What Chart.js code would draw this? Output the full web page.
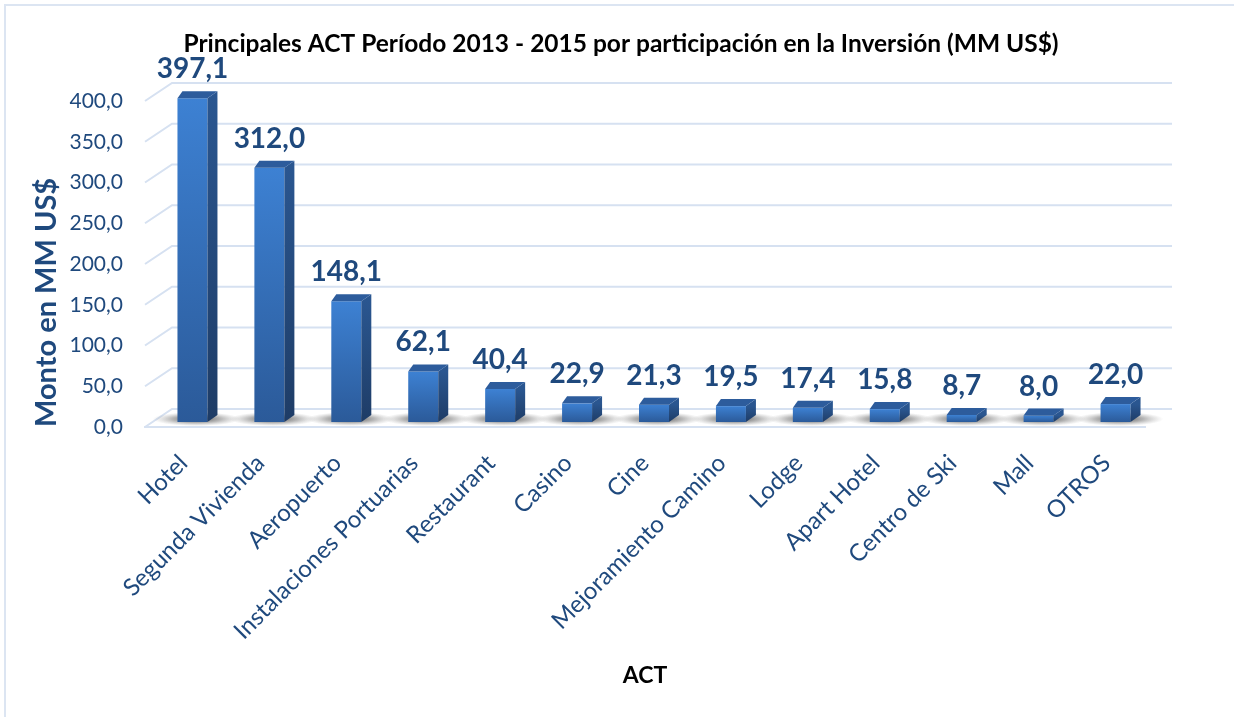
<!DOCTYPE html>
<html>
<head>
<meta charset="utf-8">
<script src="https://cdn.jsdelivr.net/npm/chart.js@4.4.1/dist/chart.umd.min.js"></script>
<style>
  html, body { margin: 0; padding: 0; background: #fff; }
  #wrap { width: 1234px; height: 717px; }
</style>
</head>
<body>
<div id="wrap"><canvas id="chart" width="1234" height="717"></canvas></div>
<script>
/* ── data ─────────────────────────────────────────── */
const categories = ['Hotel', 'Segunda Vivienda', 'Aeropuerto', 'Instalaciones Portuarias', 'Restaurant',
                    'Casino', 'Cine', 'Mejoramiento Camino', 'Lodge', 'Apart Hotel', 'Centro de Ski', 'Mall', 'OTROS'];
const montos     = [397.1, 312.0, 148.1, 62.1, 40.4, 22.9, 21.3, 19.5, 17.4, 15.8, 8.7, 8.0, 22.0];
const yMin = 0, yMax = 400, yStep = 50;

const chartTitle = 'Principales ACT Período 2013 - 2015 por participación en la Inversión (MM US$)';
const xTitle = 'ACT';
const yTitle = 'Monto en MM US$';

/* ── look ─────────────────────────────────────────── */
const FONT  = 'Lato, "Noto Sans", sans-serif';
const BLUE  = '#1F497D';
const GRID  = '#D6E1F1';
const WALL  = { dx: 27, dy: -18 };   // back wall offset
const DEPTH = { dx: 9,  dy: -5 };    // bar position inside the depth
const SIDE  = { dx: 10, dy: -7 };    // bar thickness

const fmt = v => Number(v).toFixed(1).replace('.', ',');
const ok  = (...v) => v.every(Number.isFinite);

// ── 3D look: frame, title, wall grid, floor shadows, bar sides & tops, value labels
const bars3d = {
    id: 'bars3d',
    beforeDraw(chart) {
        const { ctx, chartArea: a } = chart;
        const ys = chart.scales.y;
        ctx.save();
        // outer frame (only top and left visible in the picture)
        ctx.strokeStyle = '#DCE5F2';
        ctx.lineWidth = 2;
        ctx.beginPath();
        ctx.moveTo(5, 717); ctx.lineTo(5, 5); ctx.lineTo(1234, 5);
        ctx.stroke();
        // chart title, centred on the whole picture
        ctx.fillStyle = '#000';
        ctx.font = `bold 24.5px ${FONT}`;
        ctx.textAlign = 'center';
        ctx.textBaseline = 'alphabetic';
        ctx.fillText(chartTitle, 621, 52);
        // back wall gridlines + left diagonals
        ctx.strokeStyle = GRID;
        ctx.lineWidth = 2;
        ys.ticks.forEach(t => {
            const py = ys.getPixelForValue(t.value);
            ctx.beginPath();
            ctx.moveTo(a.left, py);
            ctx.lineTo(a.left + WALL.dx, py + WALL.dy);
            ctx.lineTo(a.right + WALL.dx, py + WALL.dy);
            ctx.stroke();
        });
        ctx.restore();
    },
    beforeDatasetsDraw(chart) {
        const { ctx } = chart;
        const meta = chart.getDatasetMeta(0);
        ctx.save();
        // soft floor shadows round each bar
        meta.data.forEach(el => {
            const cx = el.x + DEPTH.dx + 4, cy = el.base + DEPTH.dy - 3;
            if (!ok(cx, cy)) return;
            ctx.save();
            ctx.translate(cx, cy);
            ctx.scale(1, 0.16);
            const g = ctx.createRadialGradient(0, 0, 4, 0, 0, 44);
            g.addColorStop(0, 'rgba(60,60,60,0.85)');
            g.addColorStop(0.5, 'rgba(110,110,110,0.5)');
            g.addColorStop(1, 'rgba(160,160,160,0)');
            ctx.fillStyle = g;
            ctx.beginPath();
            ctx.arc(0, 0, 44, 0, Math.PI * 2);
            ctx.fill();
            ctx.restore();
        });
        ctx.restore();
        ctx.save();
        ctx.translate(DEPTH.dx, DEPTH.dy);
    },
    afterDatasetsDraw(chart) {
        const { ctx } = chart;
        const meta = chart.getDatasetMeta(0);
        meta.data.forEach((el, i) => {
            const half = el.width / 2;
            const l = el.x - half, r = el.x + half, t = el.y, b = el.base;
            if (!ok(l, r, t, b)) return;
            // side face
            const gs = ctx.createLinearGradient(0, t, 0, b);
            gs.addColorStop(0, '#2A5690');
            gs.addColorStop(1, '#1E3C66');
            ctx.fillStyle = gs;
            ctx.beginPath();
            ctx.moveTo(r, t); ctx.lineTo(r + SIDE.dx, t + SIDE.dy);
            ctx.lineTo(r + SIDE.dx, b + SIDE.dy); ctx.lineTo(r, b);
            ctx.closePath(); ctx.fill();
            // top face
            ctx.fillStyle = '#2D5C9C';
            ctx.beginPath();
            ctx.moveTo(l, t); ctx.lineTo(r, t);
            ctx.lineTo(r + SIDE.dx, t + SIDE.dy); ctx.lineTo(l + SIDE.dx * 0.5, t + SIDE.dy);
            ctx.closePath(); ctx.fill();
            // value label
            ctx.fillStyle = BLUE;
            ctx.font = `bold 28px ${FONT}`;
            ctx.textAlign = 'center';
            ctx.textBaseline = 'middle';
            ctx.fillText(fmt(montos[i]), el.x, t - 29);
        });
        ctx.restore();
    }
};

new Chart(document.getElementById('chart'), {
    type: 'bar',
    data: {
        labels: categories,
        datasets: [{
            data: montos,
            backgroundColor: c => {
                const ys = c.chart.scales.y;
                if (!ys || c.raw == null) return '#3470BE';
                const top = ys.getPixelForValue(c.raw), bot = ys.getPixelForValue(0);
                if (!ok(top, bot) || top === bot) return '#3470BE';
                const g = c.chart.ctx.createLinearGradient(0, top, 0, bot);
                g.addColorStop(0, '#3D81D3');
                g.addColorStop(1, '#2B5A99');
                return g;
            },
            borderWidth: 0,
            categoryPercentage: 1,
            barPercentage: 0.39
        }]
    },
    options: {
        responsive: false,
        animation: false,
        devicePixelRatio: 1,
        layout: { padding: { left: 0, right: 89, top: 101, bottom: 28 } },
        plugins: {
            legend: { display: false },
            tooltip: { enabled: false },
            title: { display: false }
        },
        scales: {
            x: {
                grid: { display: false, drawTicks: false },
                border: { display: true, color: GRID, width: 2 },
                ticks: { color: BLUE, font: { family: FONT, size: 24 }, minRotation: 45, maxRotation: 45,
                         autoSkip: false, padding: 22 },
                title: { display: true, text: xTitle, color: '#000',
                         font: { family: FONT, size: 23, weight: 'bold' }, padding: { top: 0, bottom: 0 } },
                afterFit(s) { s.height = 262; }
            },
            y: {
                min: yMin, max: yMax,
                grid: { display: false, drawTicks: false },
                border: { display: false },
                ticks: { stepSize: yStep, color: BLUE, font: { family: FONT, size: 21 }, padding: 22,
                         callback: v => fmt(v) },
                title: { display: true, text: yTitle, align: 'start', color: BLUE,
                         font: { family: FONT, size: 29, weight: 'bold' }, padding: { top: 29 } },
                afterFit(s) { s.width = 145; }
            }
        }
    },
    plugins: [bars3d]
});
</script>
</body>
</html>
